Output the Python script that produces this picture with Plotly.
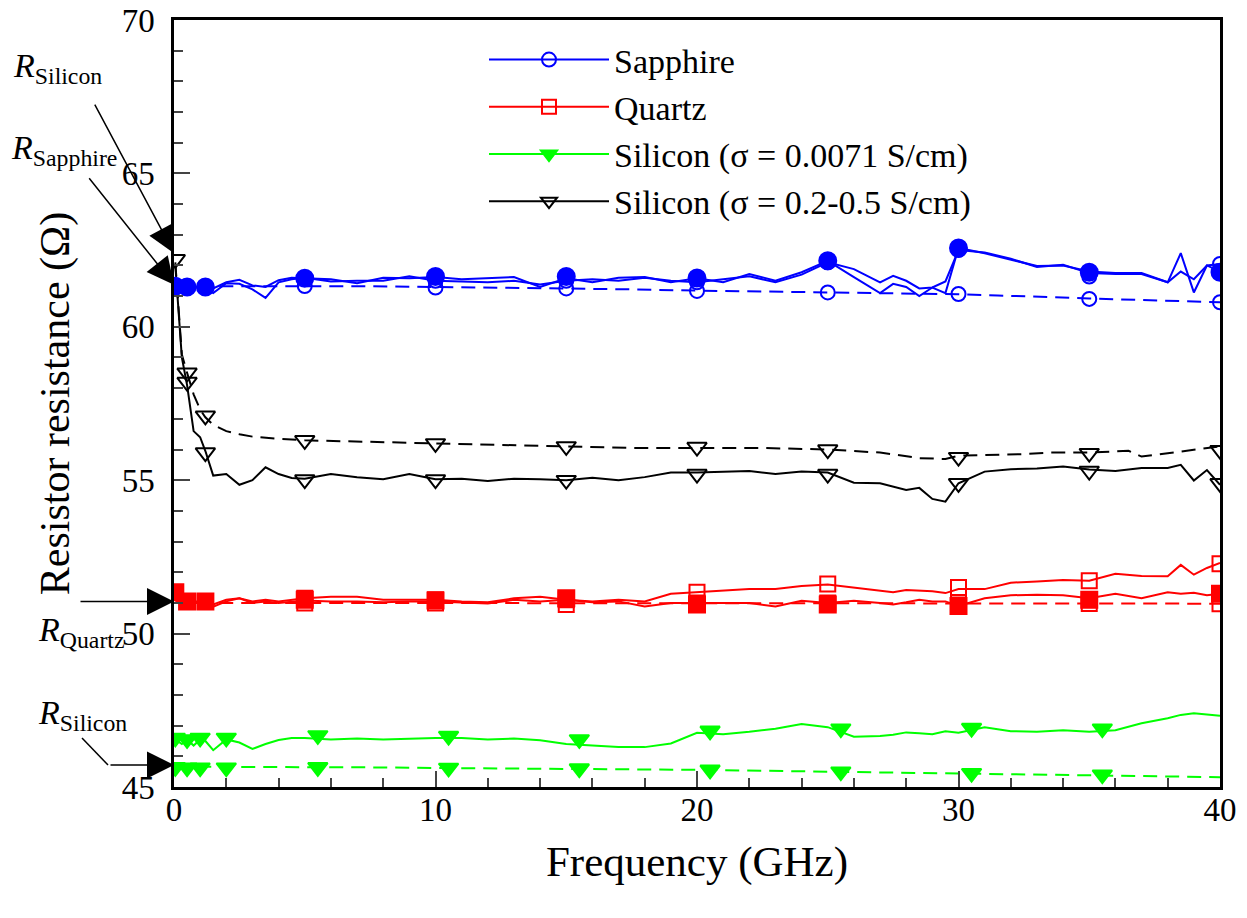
import plotly.graph_objects as go

# ---------------- data ----------------
FREQ = [0.05, 0.3, 0.5, 0.75, 1.0, 1.2, 1.5, 2.0, 2.5, 3.0, 3.5, 4.0, 4.5,
        5, 6, 7, 8, 9, 10, 11, 12, 13, 14, 15, 16, 17, 18, 19, 20, 21, 22, 23, 24, 25, 26, 27,
        27.5, 28, 28.5, 29, 29.5, 30,
        31, 32, 33, 34, 35, 36, 37, 38,
        38.5, 39, 39.5, 40]

SAPPHIRE_A = [61.32, 61.30, 61.30, 61.30, 61.30, 61.30, 61.25, 61.45, 61.53, 61.35, 61.30, 61.52, 61.60,
              61.58, 61.55, 61.42, 61.60, 61.58, 61.62, 61.55, 61.58, 61.62, 61.30, 61.58, 61.45, 61.60,
              61.62, 61.45, 61.58, 61.45, 61.72, 61.50, 61.78, 62.15, 61.62, 61.10,
              61.40, 61.30, 61.00, 61.28, 61.10, 62.57,
              62.40, 62.20, 61.98, 62.00, 61.80, 61.75, 61.75, 61.45,
              61.80, 61.55, 62.00, 61.80]
SAPPHIRE_B = [61.30, 61.30, 61.30, 61.30, 61.28, 61.25, 61.10, 61.42, 61.40, 61.22, 60.94, 61.45, 61.55,
              61.60, 61.48, 61.50, 61.50, 61.65, 61.50, 61.48, 61.45, 61.50, 61.38, 61.50, 61.55, 61.50,
              61.60, 61.50, 61.45, 61.55, 61.65, 61.45, 61.70, 62.10, 61.88, 61.45,
              61.66, 61.50, 61.25, 61.28, 61.48, 62.50,
              62.42, 62.22, 61.95, 62.02, 61.75, 61.72, 61.72, 61.45,
              62.40, 61.12, 62.00, 62.05]
QUARTZ_A = [51.40, 51.10, 51.05, 51.05, 51.05, 51.00, 50.95, 51.10, 51.15, 51.00, 51.05, 51.00, 51.05,
            51.08, 51.05, 51.05, 51.02, 51.05, 51.05, 51.02, 50.98, 51.10, 51.05, 51.10, 51.02, 51.05,
            50.88, 51.00, 51.00, 51.00, 51.00, 50.88, 51.07, 51.00, 51.07, 51.00,
            50.95, 51.02, 51.10, 51.05, 51.05, 50.90,
            51.15, 51.25, 51.27, 51.25, 51.15, 51.30, 51.15, 51.35,
            51.30, 51.33, 51.25, 51.30]
QUARTZ_B = [51.30, 51.05, 51.00, 51.00, 51.00, 50.95, 50.88, 51.05, 51.15, 51.05, 51.10, 51.05, 51.10,
            51.15, 51.20, 51.20, 51.10, 51.10, 51.10, 51.05, 51.02, 51.15, 51.20, 51.10, 51.05, 51.10,
            51.05, 51.30, 51.35, 51.42, 51.45, 51.45, 51.55, 51.60, 51.50, 51.42,
            51.35, 51.42, 51.40, 51.38, 51.32, 51.45,
            51.45, 51.66, 51.70, 51.75, 51.72, 51.95, 51.88, 51.87,
            52.24, 51.92, 52.14, 52.30]
SILICON_LOW = [46.55, 46.40, 46.55, 46.35, 46.55, 46.50, 46.20, 46.55, 46.45, 46.24, 46.40, 46.53, 46.60,
               46.60, 46.55, 46.58, 46.55, 46.58, 46.60, 46.60, 46.55, 46.58, 46.52, 46.40, 46.35, 46.30,
               46.30, 46.42, 46.77, 46.72, 46.80, 46.90, 47.05, 46.95, 46.64, 46.66,
               46.70, 46.78, 46.75, 46.72, 46.82, 46.77,
               46.95, 46.82, 46.80, 46.85, 46.80, 46.85, 47.08, 47.24,
               47.35, 47.40, 47.36, 47.32]
SILICON_HIGH = [62.00, 59.00, 58.10, 56.60, 56.40, 55.95, 55.15, 55.20, 54.85, 55.00, 55.42, 55.20, 55.07,
                55.05, 55.20, 55.10, 55.03, 55.20, 55.03, 55.05, 54.97, 55.05, 55.03, 55.00, 55.08, 55.00,
                55.10, 55.25, 55.25, 55.28, 55.30, 55.20, 55.28, 55.25, 54.92, 54.90,
                54.80, 54.68, 54.75, 54.39, 54.30, 54.90,
                55.28, 55.36, 55.38, 55.45, 55.35, 55.30, 55.40, 55.40,
                55.50, 54.99, 55.33, 54.85]

SIM_FREQ = [0.05, 0.3, 0.5, 0.75, 1.0, 1.2, 1.5, 2, 2.5, 3,
            4, 5, 7.5, 10, 12.5, 15, 17.5, 20, 22.5, 25,
            27, 28.5, 29.5, 30, 31.5, 32.5, 33.5, 35,
            36.5, 37, 38, 39.5, 40]
SAPPHIRE_SIM = [61.32, 61.32, 61.32, 61.32, 61.32, 61.32, 61.32, 61.33, 61.33, 61.33,
                61.33, 61.33, 61.32, 61.30, 61.28, 61.26, 61.22, 61.18, 61.15, 61.12,
                61.10, 61.08, 61.07, 61.06, 61.02, 61.00, 60.97, 60.92,
                60.88, 60.87, 60.85, 60.81, 60.80]
QUARTZ_SIM = [51.05, 51.02, 51.00, 51.00, 51.00, 51.00, 51.00, 51.00, 51.00, 51.00,
              51.00, 51.00, 51.00, 51.00, 51.00, 51.00, 51.00, 51.00, 51.00, 50.99,
              50.99, 50.99, 50.99, 50.99, 50.99, 50.99, 50.98, 50.98,
              50.98, 50.98, 50.98, 50.97, 50.97]
SILICON_LOW_SIM = [45.72, 45.70, 45.68, 45.67, 45.67, 45.66, 45.66, 45.66, 45.65, 45.65,
                   45.65, 45.65, 45.64, 45.62, 45.61, 45.60, 45.58, 45.56, 45.53, 45.50,
                   45.48, 45.46, 45.45, 45.45, 45.43, 45.42, 45.41, 45.39,
                   45.37, 45.36, 45.35, 45.33, 45.32]
SILICON_HIGH_SIM = [62.10, 59.10, 58.50, 57.80, 57.30, 57.05, 56.80, 56.60, 56.50, 56.42,
                    56.35, 56.30, 56.25, 56.20, 56.15, 56.10, 56.05, 56.05, 56.05, 56.00,
                    55.90, 55.72, 55.69, 55.80, 55.83, 55.85, 55.90, 55.90,
                    55.96, 55.77, 55.88, 56.05, 56.10]

# marker positions
MARK_F = [0.05, 0.5, 1.2, 5, 10, 15, 20, 25, 30, 35, 40]
MARK_F5 = [5, 10, 15, 20, 25, 30, 35, 40]
SAPPHIRE_A_MARK = [61.32, 61.30, 61.30, 61.58, 61.64, 61.64, 61.59, 62.15, 62.57, 61.78, 61.78]
SAPPHIRE_B_MARK = [61.60, 61.50, 61.50, 61.45, 62.10, 62.50, 61.64, 62.05]
SAPPHIRE_SIM_MARK = [61.33, 61.28, 61.25, 61.17, 61.12, 61.07, 60.91, 60.80]
QUARTZ_A_MARK = [51.35, 51.05, 51.05, 51.10, 51.08, 51.15, 50.95, 50.95, 50.90, 51.10, 51.30]
QUARTZ_B_MARK = [51.15, 51.10, 51.10, 51.35, 51.62, 51.50, 51.72, 52.28]
QUARTZ_SIM_MARK = [51.00, 51.00, 50.95, 51.00, 51.00, 51.00, 50.98, 50.97]
HIGH_MARK_F = [0.5, 1.2, 5, 10, 15, 20, 25, 30, 35, 40]
SILICON_HIGH_MARK = [58.20, 55.90, 55.02, 55.02, 55.00, 55.20, 55.20, 54.90, 55.30, 54.90]
SILICON_HIGH_SIM_MARK = [62.20, 58.50, 57.10, 56.30, 56.20, 56.10, 56.08, 56.00, 55.75, 55.88, 55.98]
LOW_MARK_F = [0.05, 0.5, 1.0, 2.0, 5.5, 10.5, 15.5, 20.5, 25.5, 30.5, 35.5]
SILICON_LOW_MARK = [46.60, 46.55, 46.60, 46.60, 46.68, 46.66, 46.55, 46.83, 46.90, 46.92, 46.90]
SILICON_LOW_SIM_MARK = [45.64, 45.63, 45.63, 45.63, 45.64, 45.62, 45.60, 45.56, 45.50, 45.45, 45.40]

LEGEND_NAMES = ["Sapphire", "Quartz", "Silicon (σ = 0.0071 S/cm)", "Silicon (σ = 0.2-0.5 S/cm)"]

BLUE, RED, GREEN, BLACK = "#0000FF", "#FF0000", "#00FF00", "#000000"
FONT = "Liberation Serif, Times New Roman, serif"
DASH = "14px,8px"

fig = go.Figure()


def line(x, y, color, dash="solid"):
    fig.add_trace(go.Scatter(x=x, y=y, mode="lines", showlegend=False, hoverinfo="skip",
                             line=dict(color=color, width=2, dash=dash)))


def marks(x, y, color, symbol, size, filled):
    fig.add_trace(go.Scatter(x=x, y=y, mode="markers", showlegend=False, hoverinfo="skip",
                             marker=dict(symbol=symbol, size=size,
                                         color=color if filled else "rgba(0,0,0,0)",
                                         line=dict(color=color, width=2))))


# simulation (dashed)
line(SIM_FREQ, SAPPHIRE_SIM, BLUE, DASH)
line(SIM_FREQ, QUARTZ_SIM, RED, DASH)
line(SIM_FREQ, SILICON_LOW_SIM, GREEN, DASH)
line(SIM_FREQ, SILICON_HIGH_SIM, BLACK, DASH)
# measured (solid)
line(FREQ, SAPPHIRE_B, BLUE)
line(FREQ, SAPPHIRE_A, BLUE)
line(FREQ, QUARTZ_B, RED)
line(FREQ, QUARTZ_A, RED)
line(FREQ, SILICON_LOW, GREEN)
line(FREQ, SILICON_HIGH, BLACK)
# markers
marks(MARK_F5, SAPPHIRE_SIM_MARK, BLUE, "circle", 14, False)
marks(MARK_F5, SAPPHIRE_B_MARK, BLUE, "circle", 14, False)
marks(MARK_F, SAPPHIRE_A_MARK, BLUE, "circle", 17, True)
marks(MARK_F5, QUARTZ_SIM_MARK, RED, "square", 15, False)
marks(MARK_F5, QUARTZ_B_MARK, RED, "square", 15, False)
marks(MARK_F, QUARTZ_A_MARK, RED, "square", 16, True)
marks(LOW_MARK_F, SILICON_LOW_SIM_MARK, GREEN, "triangle-down", 17, True)
marks(LOW_MARK_F, SILICON_LOW_MARK, GREEN, "triangle-down", 17, True)
marks(MARK_F, SILICON_HIGH_SIM_MARK, BLACK, "triangle-down", 17, False)
marks(HIGH_MARK_F, SILICON_HIGH_MARK, BLACK, "triangle-down", 17, False)

# legend entries
for name, color, symbol in zip(LEGEND_NAMES, [BLUE, RED, GREEN, BLACK],
                               ["circle-open", "square-open", "triangle-down", "triangle-down-open"]):
    fig.add_trace(go.Scatter(x=[None], y=[None], mode="lines+markers", name=name,
                             line=dict(color=color, width=2),
                             marker=dict(symbol=symbol, size=14, color=color, line=dict(color=color, width=2))))


def px_x(p):
    return (p - 174) / 1046


def px_y(p):
    return (787 - p) / 767


arrow = dict(xref="x", yref="y", axref="pixel", ayref="pixel", text="", showarrow=True,
             arrowhead=2, arrowsize=3.6, arrowwidth=1.5, arrowcolor="black")
annotations = [
    dict(x=0, y=62.4, ax=-80, ay=-150, **arrow),
    dict(x=0, y=61.37, ax=-86, ay=-108, **arrow),
    dict(x=0, y=51.05, ax=-95, ay=0, **arrow),
    dict(x=0, y=45.72, ax=-65, ay=0, **arrow),
]
labels = [("Silicon", 11, 68), ("Sapphire", 9, 150), ("Quartz", 36, 632), ("Silicon", 36, 715)]
for sub, lx, ly in labels:
    annotations.append(dict(xref="paper", yref="paper", x=px_x(lx), y=px_y(ly), xanchor="left",
                            yanchor="middle", showarrow=False,
                            text="<i>R</i><sub>%s</sub>" % sub,
                            font=dict(family=FONT, size=34, color="black")))

shapes = [dict(type="line", xref="paper", yref="paper", x0=px_x(82), y0=px_y(738),
               x1=px_x(108), y1=px_y(765), line=dict(color="black", width=1.5))]

fig.update_layout(
    width=1247, height=918,
    margin=dict(l=174, r=27, t=20, b=131, autoexpand=False),
    plot_bgcolor="white", paper_bgcolor="white",
    font=dict(family=FONT, size=33, color="black"),
    legend=dict(x=px_x(484), y=px_y(31), xanchor="left", yanchor="top",
                bgcolor="rgba(0,0,0,0)", font=dict(family=FONT, size=34), itemwidth=120),
    annotations=annotations, shapes=shapes,
    xaxis=dict(range=[0, 40], dtick=10, tick0=0, ticks="inside", ticklen=16, tickwidth=2,
               minor=dict(ticks="inside", ticklen=9, dtick=2, tickwidth=2, showgrid=False),
               showline=True, linewidth=2.5, linecolor="black", mirror=True, automargin=False,
               showgrid=False, zeroline=False, tickfont=dict(size=33), ticklabelstandoff=-8,
               title=dict(text="Frequency (GHz)", font=dict(size=43), standoff=19)),
    yaxis=dict(range=[45, 70], dtick=5, tick0=45, ticks="inside", ticklen=16, tickwidth=2,
               minor=dict(ticks="inside", ticklen=9, dtick=1, tickwidth=2, showgrid=False),
               showline=True, linewidth=2.5, linecolor="black", mirror=True, automargin=False,
               showgrid=False, zeroline=False, tickfont=dict(size=33), ticklabelstandoff=10,
               title=dict(text="Resistor resistance (Ω)", font=dict(size=42), standoff=39)),
)

fig.write_html("out.html", config={"displayModeBar": False},
               post_script="document.body.style.margin='0';")
